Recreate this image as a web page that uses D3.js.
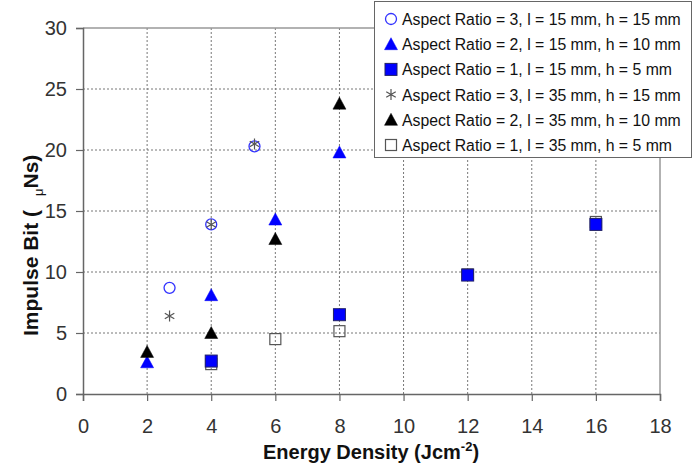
<!DOCTYPE html>
<html>
<head>
<meta charset="utf-8">
<script src="https://cdn.jsdelivr.net/npm/d3@7"></script>
<style>
  body { margin: 0; background: #fff; }
  text { font-family: "Liberation Sans", Arial, sans-serif; }
</style>
</head>
<body>
<div id="chart"></div>
<script>
// data
var xTicks = [0, 2, 4, 6, 8, 10, 12, 14, 16, 18],
  yTicks = [0, 5, 10, 15, 20, 25, 30];

var ar3l15x = [2.7, 4, 5.35],  ar3l15y = [8.7, 13.9, 20.3];
var ar2l15x = [2, 4, 6, 8],     ar2l15y = [2.6, 8.1, 14.3, 19.8];
var ar1l15x = [4, 8, 12, 16],   ar1l15y = [2.7, 6.5, 9.75, 13.9];
var ar3l35x = [2.7, 4, 5.35],  ar3l35y = [6.4, 13.9, 20.5];
var ar2l35x = [2, 4, 6, 8],     ar2l35y = [3.45, 5.0, 12.7, 23.8];
var ar1l35x = [4, 6, 8, 12, 16], ar1l35y = [2.45, 4.5, 5.15, 9.8, 14.1];

var labels = [
  "Aspect Ratio = 3, l = 15 mm, h = 15 mm",
  "Aspect Ratio = 2, l = 15 mm, h = 10 mm",
  "Aspect Ratio = 1, l = 15 mm, h = 5 mm",
  "Aspect Ratio = 3, l = 35 mm, h = 15 mm",
  "Aspect Ratio = 2, l = 35 mm, h = 10 mm",
  "Aspect Ratio = 1, l = 35 mm, h = 5 mm"
];

var width = 694, height = 463,
  pLeft = 83, pRight = 660, pTop = 28, pBottom = 394;

var x = d3.scaleLinear().domain([0, 18]).range([pLeft, pRight]);
var y = d3.scaleLinear().domain([0, 30]).range([pBottom, pTop]);

var svg = d3.select("#chart").append("svg")
  .attr("width", width)
  .attr("height", height);

// dotted grid
svg.append("g").selectAll("line").data(xTicks.slice(1, -1)).enter().append("line")
  .attr("x1", function(d){ return x(d); }).attr("x2", function(d){ return x(d); })
  .attr("y1", pTop).attr("y2", pBottom)
  .attr("stroke", "#777").attr("stroke-width", 1).attr("stroke-dasharray", "2,2");
svg.append("g").selectAll("line").data(yTicks.slice(1, -1)).enter().append("line")
  .attr("x1", pLeft).attr("x2", pRight)
  .attr("y1", function(d){ return y(d); }).attr("y2", function(d){ return y(d); })
  .attr("stroke", "#777").attr("stroke-width", 1).attr("stroke-dasharray", "2,2");

// frame top / right
svg.append("path")
  .attr("d", "M" + pLeft + "," + pTop + "H" + pRight + "V" + pBottom)
  .attr("fill", "none").attr("stroke", "#999").attr("stroke-width", 1.5);

// axes
var xAxis = svg.append("g").attr("transform", "translate(0," + pBottom + ")")
  .call(d3.axisBottom(x).tickValues(xTicks).tickSize(7).tickPadding(18));
var yAxis = svg.append("g").attr("transform", "translate(" + pLeft + ",0)")
  .call(d3.axisLeft(y).tickValues(yTicks).tickSize(7).tickPadding(9));
[xAxis, yAxis].forEach(function(a) {
  a.select(".domain").attr("stroke", "#666").attr("stroke-width", 1.5);
  a.selectAll(".tick line").attr("stroke", "#666").attr("stroke-width", 1.2);
  a.selectAll(".tick text").attr("fill", "#333")
    .style("font-family", "Liberation Sans, Arial, sans-serif").style("font-size", "20px");
});

// marker drawers
function circle(g, cx, cy) {
  g.append("circle").attr("cx", cx).attr("cy", cy).attr("r", 5.5)
    .attr("fill", "none").attr("stroke", "#3333ff").attr("stroke-width", 1.3);
}
function tri(color) {
  return function(g, cx, cy) {
    g.append("path").attr("d", "M" + cx + "," + (cy - 6.5) + "L" + (cx + 6.5) + "," + (cy + 5.5) + "L" + (cx - 6.5) + "," + (cy + 5.5) + "Z")
      .attr("fill", color).attr("stroke", color).attr("stroke-width", 0.5);
  };
}
function sqFilled(g, cx, cy) {
  g.append("rect").attr("x", cx - 6).attr("y", cy - 6).attr("width", 12).attr("height", 12)
    .attr("fill", "#0000ff").attr("stroke", "#222266").attr("stroke-width", 1);
}
function sqOpen(g, cx, cy) {
  g.append("rect").attr("x", cx - 5.5).attr("y", cy - 5.5).attr("width", 11).attr("height", 11)
    .attr("fill", "none").attr("stroke", "#555").attr("stroke-width", 1.2);
}
function star(g, cx, cy) {
  var r = 5.5, d = "";
  [0, 60, 120].forEach(function(a) {
    var rad = a * Math.PI / 180, dx = r * Math.sin(rad), dy = r * Math.cos(rad);
    d += "M" + (cx - dx) + "," + (cy - dy) + "L" + (cx + dx) + "," + (cy + dy);
  });
  g.append("path").attr("d", d).attr("stroke", "#555").attr("stroke-width", 1.2).attr("fill", "none");
}

var series = [
  {xs: ar1l35x, ys: ar1l35y, draw: sqOpen},
  {xs: ar1l15x, ys: ar1l15y, draw: sqFilled},
  {xs: ar2l15x, ys: ar2l15y, draw: tri("#0000ff")},
  {xs: ar2l35x, ys: ar2l35y, draw: tri("#000")},
  {xs: ar3l15x, ys: ar3l15y, draw: circle},
  {xs: ar3l35x, ys: ar3l35y, draw: star}
];
var marks = svg.append("g");
series.forEach(function(s) {
  s.xs.forEach(function(v, i) { s.draw(marks, x(v), y(s.ys[i])); });
});

// legend
var legendDraw = [circle, tri("#0000ff"), sqFilled, star, tri("#000"), sqOpen];
var lg = svg.append("g");
lg.append("rect").attr("x", 374.5).attr("y", 1.5).attr("width", 317).attr("height", 156)
  .attr("fill", "#fff").attr("stroke", "#666").attr("stroke-width", 1);
labels.forEach(function(t, i) {
  var cy = 19 + i * 25.2;
  legendDraw[i](lg, 391, cy);
  lg.append("text").attr("x", 402).attr("y", cy + 6)
    .attr("fill", "#111").style("font-size", "15.8px").text(t);
});

// axis titles
var xt = svg.append("text").attr("x", 371).attr("y", 459).attr("text-anchor", "middle")
  .style("font-size", "20px").style("font-weight", "bold").attr("fill", "#111");
xt.append("tspan").text("Energy Density (Jcm");
xt.append("tspan").attr("dy", -8).style("font-size", "13px").text("-2");
xt.append("tspan").attr("dy", 8).text(")");

var yt = svg.append("text").attr("transform", "translate(38,336) rotate(-90)")
  .attr("text-anchor", "start").style("font-size", "21px").style("font-weight", "bold").attr("fill", "#111");
yt.append("tspan").text("Impulse Bit (");
yt.append("tspan").attr("dx", 14).attr("dy", 5).style("font-size", "13px").style("font-weight", "normal").text("μ");
yt.append("tspan").attr("dy", -5).text("Ns)");
</script>
</body>
</html>
